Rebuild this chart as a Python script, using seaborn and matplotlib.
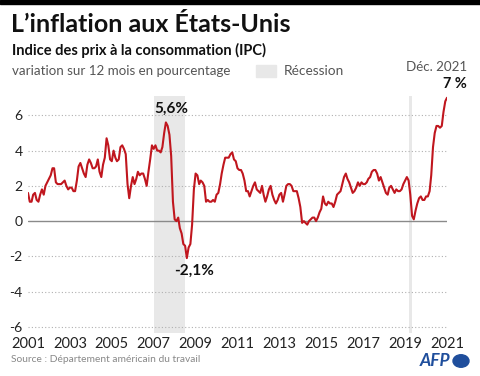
import numpy as np
import pandas as pd
import seaborn as sns
import matplotlib.pyplot as plt
from matplotlib.patches import Rectangle, Circle

# monthly 12-month CPI change, Dec 2001 -> Dec 2021
cpi_2001 = [1.6]
cpi_2002 = [1.1, 1.1, 1.5, 1.6, 1.2, 1.1, 1.5, 1.8, 1.5, 2.0, 2.2, 2.4]
cpi_2003 = [2.6, 3.0, 3.0, 2.2, 2.1, 2.1, 2.1, 2.2, 2.3, 2.0, 1.8, 1.9]
cpi_2004 = [1.9, 1.7, 1.7, 2.3, 3.1, 3.3, 3.0, 2.7, 2.5, 3.2, 3.5, 3.3]
cpi_2005 = [3.0, 3.0, 3.1, 3.5, 2.8, 2.5, 3.2, 3.6, 4.7, 4.3, 3.5, 3.4]
cpi_2006 = [4.0, 3.6, 3.4, 3.5, 4.2, 4.3, 4.1, 3.8, 2.1, 1.3, 2.0, 2.5]
cpi_2007 = [2.1, 2.4, 2.8, 2.6, 2.7, 2.7, 2.4, 2.0, 2.8, 3.5, 4.3, 4.1]
cpi_2008 = [4.3, 4.0, 4.0, 3.9, 4.2, 5.0, 5.6, 5.4, 4.9, 3.7, 1.1, 0.1]
cpi_2009 = [0.0, 0.2, -0.4, -0.7, -1.3, -1.4, -2.1, -1.5, -1.3, -0.2, 1.8, 2.7]
cpi_2010 = [2.6, 2.1, 2.3, 2.2, 2.0, 1.1, 1.2, 1.1, 1.1, 1.2, 1.1, 1.5]
cpi_2011 = [1.6, 2.1, 2.7, 3.2, 3.6, 3.6, 3.6, 3.8, 3.9, 3.5, 3.4, 3.0]
cpi_2012 = [2.9, 2.9, 2.7, 2.3, 1.7, 1.7, 1.4, 1.7, 2.0, 2.2, 1.8, 1.7]
cpi_2013 = [1.6, 2.0, 1.5, 1.1, 1.4, 1.8, 2.0, 1.5, 1.2, 1.0, 1.2, 1.5]
cpi_2014 = [1.6, 1.1, 1.5, 2.0, 2.1, 2.1, 2.0, 1.7, 1.7, 1.7, 1.3, 0.8]
cpi_2015 = [-0.1, 0.0, -0.1, -0.2, 0.0, 0.1, 0.2, 0.2, 0.0, 0.2, 0.5, 0.7]
cpi_2016 = [1.4, 1.0, 0.9, 1.1, 1.0, 1.0, 0.8, 1.1, 1.5, 1.6, 1.7, 2.1]
cpi_2017 = [2.5, 2.7, 2.4, 2.2, 1.9, 1.6, 1.7, 1.9, 2.2, 2.0, 2.2, 2.1]
cpi_2018 = [2.1, 2.2, 2.4, 2.5, 2.8, 2.9, 2.9, 2.7, 2.3, 2.5, 2.2, 1.9]
cpi_2019 = [1.6, 1.5, 1.9, 2.0, 1.8, 1.6, 1.8, 1.7, 1.7, 1.8, 2.1, 2.3]
cpi_2020 = [2.5, 2.3, 1.5, 0.3, 0.1, 0.6, 1.0, 1.3, 1.4, 1.2, 1.2, 1.4]
cpi_2021 = [1.4, 1.7, 2.6, 4.2, 5.0, 5.4, 5.4, 5.3, 5.4, 6.2, 6.8, 7.0]

recessions = [("2007-12-01", "2009-06-01"), ("2020-02-01", "2020-04-01")]
tick_years = list(range(2001, 2022, 2))
y_ticks = [-6, -4, -2, 0, 2, 4, 6]

values = (cpi_2001 + cpi_2002 + cpi_2003 + cpi_2004 + cpi_2005 + cpi_2006 + cpi_2007
          + cpi_2008 + cpi_2009 + cpi_2010 + cpi_2011 + cpi_2012 + cpi_2013 + cpi_2014
          + cpi_2015 + cpi_2016 + cpi_2017 + cpi_2018 + cpi_2019 + cpi_2020 + cpi_2021)
df = pd.DataFrame({"date": pd.date_range("2001-12-01", periods=len(values), freq="MS"),
                   "ipc": values})

sns.set_style("white")
plt.rcParams["font.family"] = ["Lato", "DejaVu Sans"]

red = "#c0161e"
grey_shade = "#e8e8e8"

fig = plt.figure(figsize=(4.8, 3.76), dpi=100)
ax = fig.add_axes([28 / 480, 1 - 333 / 376, (447 - 28) / 480, (333 - 96) / 376])

for start, end in recessions:
    ax.axvspan(pd.Timestamp(start), pd.Timestamp(end), color=grey_shade, lw=0, zorder=0)

for y in y_ticks:
    if y == 0:
        ax.axhline(0, color="#8a8a8a", lw=1, zorder=1)
    else:
        ax.axhline(y, color="#b0b0b0", lw=0.8, ls=(0, (1, 2)), zorder=1)

sns.lineplot(data=df, x="date", y="ipc", ax=ax, color=red, linewidth=1.5, zorder=3)

ax.set_xlim(df["date"].iloc[0], df["date"].iloc[-1])
ax.set_ylim(-6.35, 7.1)
ax.set_xticks([pd.Timestamp(f"{y}-12-01") for y in tick_years])
ax.set_xticklabels([str(y) for y in tick_years], fontsize=10.5, color="#222222")
ax.set_yticks(y_ticks)
ax.set_yticklabels([str(y) for y in y_ticks], fontsize=10, color="#222222")
ax.tick_params(length=0, pad=4)
ax.tick_params(axis="x", pad=3)
ax.set_xlabel("")
ax.set_ylabel("")
for s in ax.spines.values():
    s.set_visible(False)
ax.patch.set_alpha(0)

# annotations on peak and trough
peak = df.loc[df[df["date"] < "2009-01-01"]["ipc"].idxmax()]
trough = df.loc[df["ipc"].idxmin()]
ax.annotate("5,6%", (peak["date"], peak["ipc"]), xytext=(4, 5), textcoords="offset points",
            ha="center", va="bottom", fontsize=11, fontweight="bold", color="#111111")
ax.annotate("-2,1%", (trough["date"], trough["ipc"]), xytext=(5, -4), textcoords="offset points",
            ha="center", va="top", fontsize=11, fontweight="bold", color="#111111")

# header
fig.patches.append(Rectangle((0, 1 - 4 / 376), 1, 4 / 376, transform=fig.transFigure,
                             color="black", zorder=5))
fig.text(11 / 480, 1 - 25 / 376, "L\u2019inflation aux États-Unis", fontsize=18,
         fontweight="bold", va="center", ha="left", color="#111111")
fig.text(12 / 480, 1 - 50 / 376, "Indice des prix à la consommation (IPC)", fontsize=10.5,
         fontweight="bold", va="center", ha="left", color="#111111")
fig.text(12 / 480, 1 - 71 / 376, "variation sur 12 mois en pourcentage", fontsize=9.6,
         va="center", ha="left", color="#555555")
fig.patches.append(Rectangle((256 / 480, 1 - 77 / 376), 20 / 480, 12 / 376,
                             transform=fig.transFigure, color=grey_shade))
fig.text(284 / 480, 1 - 71 / 376, "Récession", fontsize=9.8, va="center", ha="left",
         color="#555555")
fig.text(467 / 480, 1 - 67 / 376, "Déc. 2021", fontsize=9.6, va="center", ha="right",
         color="#555555")
fig.text(467 / 480, 1 - 84 / 376, "7 %", fontsize=10.5, fontweight="bold", va="center",
         ha="right", color="#111111")

# footer
fig.text(11 / 480, 1 - 360 / 376, "Source : Département américain du travail", fontsize=7.4,
         va="center", ha="left", color="#888888")
fig.text(450 / 480, 1 - 361 / 376, "AFP", fontsize=12.5, fontweight="bold", style="italic",
         va="center", ha="right", color="#1f4e9c")
fig.patches.append(Circle((461 / 480, 1 - 361 / 376), 8 / 480, transform=fig.transFigure,
                          color="#1f4e9c"))

fig.savefig("out.png", dpi=100)
